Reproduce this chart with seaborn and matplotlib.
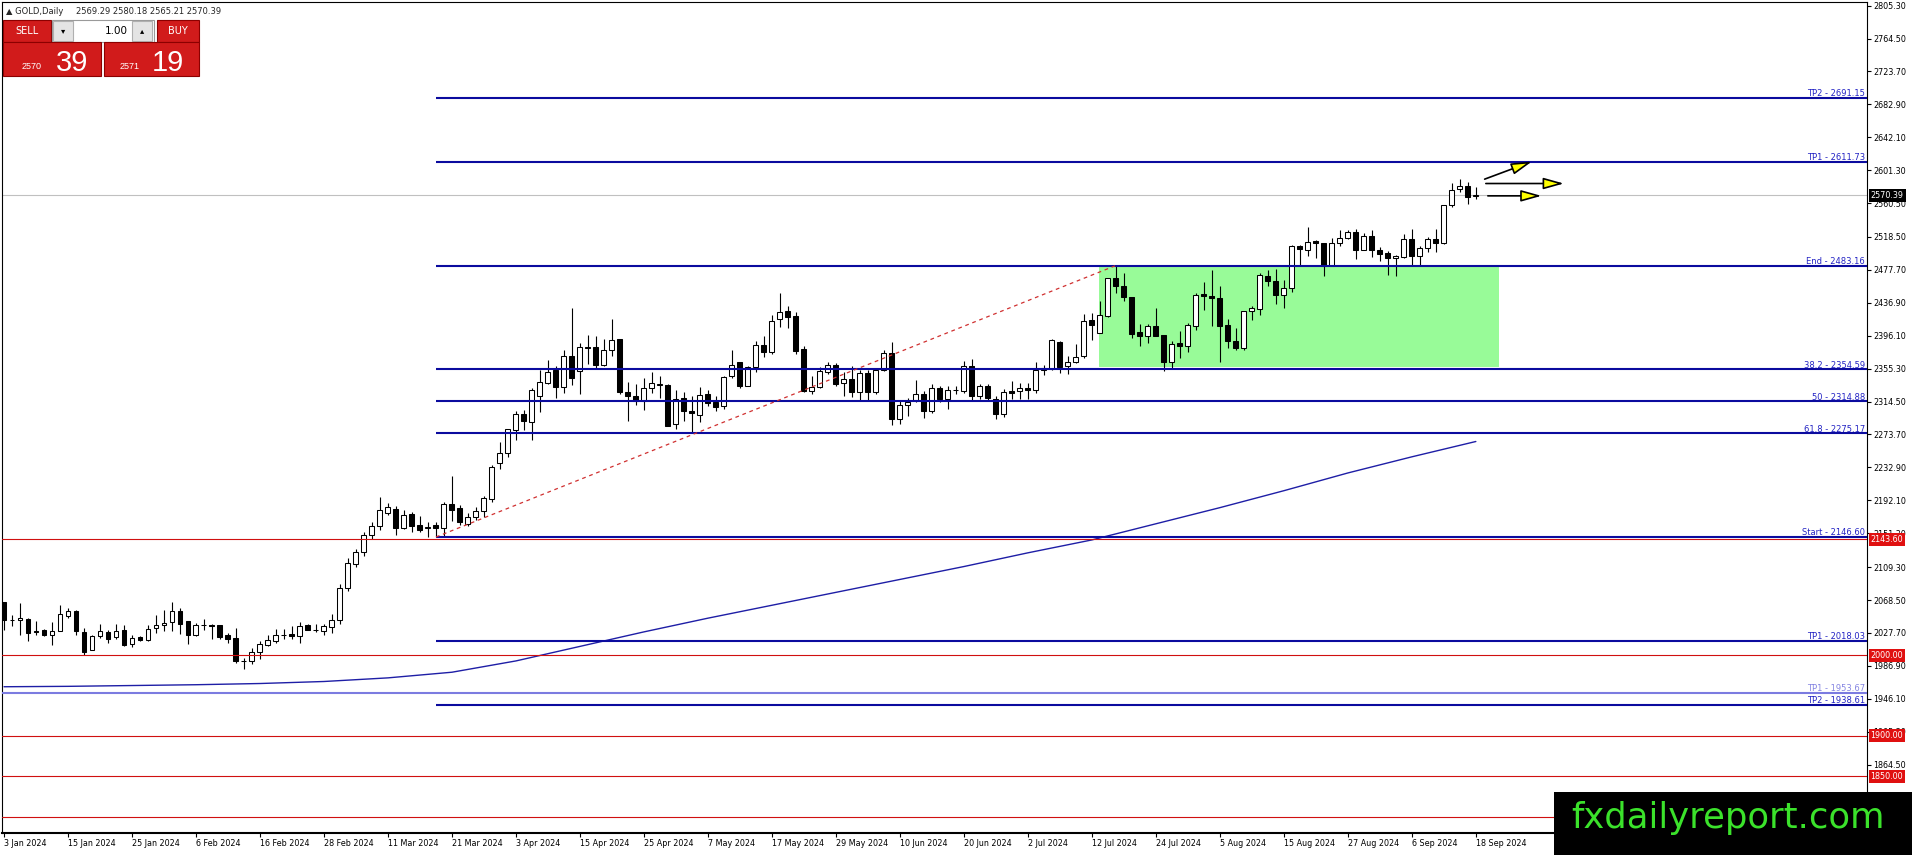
import numpy as np
import pandas as pd
import matplotlib
matplotlib.use("Agg")
import matplotlib.pyplot as plt
from matplotlib.patches import Rectangle
import seaborn as sns

# ---- daily candles, one entry per bar (3 Jan 2024 .. 18 Sep 2024) ----
opens = [
    2065.9, 2043.2, 2044.0, 2045.3, 2029.6, 2030.9, 2024.7, 2029.6, 2048.2, 2055.2,
    2028.8, 2006.1, 2023.9, 2028.8, 2022.2, 2030.9, 2014.0, 2022.2, 2018.5, 2033.7,
    2037.4, 2041.2, 2055.2, 2042.0, 2024.7, 2037.0, 2037.0, 2037.0, 2024.7, 2021.4,
    1992.5, 1992.5, 2004.1, 2012.3, 2017.3, 2025.1, 2026.7, 2023.9, 2037.9, 2030.9,
    2029.6, 2034.6, 2044.0, 2083.6, 2113.3, 2127.7, 2149.1, 2159.8, 2176.3, 2181.3,
    2157.8, 2175.1, 2161.5, 2157.4, 2161.5, 2157.4, 2187.5, 2182.1, 2163.0, 2171.5,
    2178.5, 2194.0, 2238.6, 2250.9, 2279.0, 2299.6, 2288.9, 2321.0, 2337.5, 2354.0,
    2332.5, 2370.9, 2352.3, 2382.0, 2382.0, 2359.7, 2378.7, 2392.3, 2326.4, 2321.4,
    2314.8, 2331.3, 2335.4, 2335.4, 2286.4, 2319.4, 2303.3, 2297.5, 2324.3, 2314.0,
    2308.6, 2345.7, 2363.9, 2334.2, 2357.3, 2384.5, 2375.4, 2416.6, 2426.9, 2420.7,
    2379.9, 2327.6, 2332.5, 2351.5, 2359.7, 2337.5, 2342.8, 2325.9, 2349.8, 2325.9,
    2354.0, 2374.6, 2293.0, 2310.3, 2316.1, 2324.3, 2302.8, 2331.6, 2317.2, 2328.7,
    2327.5, 2358.4, 2321.3, 2333.7, 2318.0, 2298.7, 2327.9, 2327.1, 2331.6, 2328.8,
    2354.0, 2355.1, 2388.1, 2358.4, 2363.4, 2370.8, 2415.3, 2399.6, 2421.0, 2468.0,
    2457.3, 2444.1, 2401.3, 2395.5, 2408.7, 2397.6, 2363.4, 2387.3, 2383.1, 2408.7,
    2448.3, 2445.8, 2442.5, 2409.5, 2389.3, 2381.1, 2426.4, 2429.3, 2470.5, 2463.5,
    2446.6, 2455.3, 2506.8, 2501.8, 2513.4, 2510.9, 2482.9, 2510.9, 2516.7, 2524.1,
    2502.7, 2520.0, 2502.7, 2498.5, 2491.9, 2493.6, 2515.8, 2495.2, 2504.7, 2515.8,
    2510.9, 2558.3, 2577.7, 2582.2, 2569.29,
]
highs = [
    2065.9, 2050.2, 2065.1, 2046.0, 2042.0, 2032.9, 2041.2, 2062.6, 2058.9, 2056.0,
    2033.7, 2024.7, 2039.1, 2031.3, 2039.1, 2037.9, 2025.5, 2023.9, 2037.9, 2049.4,
    2056.0, 2065.9, 2058.5, 2042.0, 2039.5, 2045.3, 2039.1, 2037.9, 2027.6, 2033.7,
    1996.7, 2009.0, 2017.3, 2024.7, 2032.1, 2032.1, 2036.2, 2041.2, 2039.1, 2039.1,
    2039.1, 2051.0, 2088.5, 2120.3, 2131.8, 2153.3, 2165.6, 2195.7, 2188.7, 2184.6,
    2180.4, 2177.2, 2172.2, 2164.8, 2164.8, 2190.0, 2222.0, 2186.2, 2176.0, 2184.0,
    2197.0, 2236.0, 2264.1, 2280.6, 2302.5, 2304.5, 2331.3, 2354.0, 2365.5, 2358.1,
    2377.9, 2430.6, 2386.9, 2397.2, 2395.2, 2392.3, 2417.0, 2392.3, 2338.3, 2336.7,
    2344.1, 2351.5, 2346.5, 2335.8, 2328.4, 2325.9, 2321.0, 2332.1, 2329.2, 2321.0,
    2346.5, 2377.9, 2363.9, 2358.9, 2389.8, 2396.0, 2422.4, 2449.6, 2433.1, 2425.7,
    2382.8, 2346.5, 2357.3, 2363.9, 2362.2, 2350.7, 2358.9, 2354.0, 2354.0, 2356.0,
    2377.9, 2387.8, 2314.8, 2319.4, 2341.6, 2327.2, 2335.8, 2333.7, 2333.7, 2333.7,
    2364.6, 2366.7, 2335.8, 2335.8, 2321.3, 2329.6, 2339.9, 2337.0, 2337.0, 2363.4,
    2360.0, 2392.2, 2389.3, 2370.8, 2386.4, 2422.7, 2424.4, 2438.8, 2468.0, 2483.16,
    2473.8, 2444.1, 2411.2, 2411.2, 2430.5, 2397.6, 2389.7, 2401.7, 2412.0, 2449.1,
    2462.3, 2477.1, 2458.1, 2416.9, 2405.8, 2426.4, 2432.6, 2473.8, 2477.1, 2478.8,
    2465.6, 2508.8, 2508.8, 2530.7, 2514.2, 2510.9, 2517.1, 2526.6, 2527.4, 2528.2,
    2523.3, 2526.6, 2505.9, 2500.6, 2496.5, 2522.4, 2528.2, 2506.8, 2518.3, 2528.2,
    2558.3, 2586.0, 2590.2, 2586.9, 2580.18,
]
lows = [
    2030.9, 2036.2, 2024.7, 2017.3, 2024.7, 2023.9, 2013.1, 2029.6, 2046.5, 2025.5,
    2000.8, 2006.1, 2021.4, 2015.6, 2019.7, 2011.1, 2010.3, 2017.3, 2017.3, 2028.0,
    2030.4, 2029.6, 2026.7, 2014.4, 2023.9, 2030.9, 2019.7, 2019.7, 2015.6, 1990.9,
    1983.5, 1989.6, 1995.0, 2011.5, 2015.6, 2019.7, 2020.6, 2015.6, 2030.9, 2028.8,
    2024.7, 2028.0, 2039.1, 2079.1, 2109.2, 2123.6, 2144.2, 2155.7, 2173.9, 2149.1,
    2156.5, 2152.4, 2153.3, 2146.2, 2146.6, 2148.3, 2166.9, 2161.5, 2160.0, 2168.0,
    2172.0, 2190.0, 2231.2, 2246.0, 2266.6, 2279.0, 2266.6, 2301.2, 2336.7, 2318.5,
    2325.1, 2335.0, 2323.5, 2361.4, 2354.8, 2358.9, 2371.3, 2324.3, 2290.1, 2310.3,
    2303.7, 2325.1, 2318.5, 2283.9, 2280.6, 2290.5, 2275.7, 2289.7, 2308.6, 2302.5,
    2305.3, 2343.2, 2331.3, 2333.4, 2350.7, 2369.2, 2372.9, 2406.7, 2405.1, 2372.9,
    2326.0, 2323.5, 2330.9, 2349.0, 2333.4, 2321.0, 2319.8, 2314.8, 2314.8, 2324.3,
    2351.9, 2285.2, 2286.8, 2296.3, 2313.6, 2293.8, 2300.7, 2313.9, 2304.9, 2323.4,
    2325.5, 2315.1, 2317.2, 2315.1, 2293.3, 2295.8, 2318.0, 2317.2, 2317.2, 2325.5,
    2348.0, 2353.5, 2349.4, 2348.1, 2361.7, 2368.7, 2390.6, 2399.6, 2419.4, 2449.1,
    2438.8, 2393.5, 2383.1, 2387.3, 2396.3, 2352.2, 2355.1, 2368.7, 2375.7, 2403.0,
    2428.5, 2408.7, 2363.4, 2381.1, 2378.2, 2379.0, 2415.3, 2422.3, 2457.3, 2435.9,
    2431.0, 2449.9, 2482.9, 2495.2, 2491.9, 2469.7, 2482.9, 2507.6, 2515.8, 2491.1,
    2501.8, 2493.6, 2488.2, 2471.7, 2470.5, 2492.4, 2482.9, 2482.9, 2499.4, 2499.4,
    2510.1, 2555.4, 2574.5, 2560.0, 2565.21,
]
closes = [
    2043.2, 2043.6, 2046.5, 2027.6, 2028.8, 2024.7, 2030.0, 2051.0, 2054.8, 2029.6,
    2004.1, 2023.9, 2029.6, 2020.6, 2029.6, 2013.1, 2021.4, 2018.9, 2033.0, 2037.9,
    2040.3, 2055.2, 2039.1, 2024.7, 2037.9, 2037.4, 2036.2, 2022.6, 2019.7, 1992.5,
    1992.9, 2004.1, 2014.0, 2018.5, 2024.7, 2025.5, 2023.9, 2036.2, 2030.9, 2031.3,
    2036.2, 2044.0, 2083.6, 2114.1, 2127.7, 2149.1, 2159.8, 2179.6, 2183.3, 2157.8,
    2173.9, 2160.7, 2155.7, 2159.4, 2157.4, 2187.5, 2180.4, 2164.8, 2171.0, 2178.5,
    2194.5, 2233.5, 2250.9, 2280.6, 2299.6, 2290.1, 2329.2, 2338.7, 2351.1, 2332.5,
    2370.9, 2343.2, 2382.0, 2380.3, 2359.3, 2378.7, 2390.2, 2325.9, 2321.0, 2314.8,
    2331.7, 2337.5, 2335.8, 2283.9, 2317.7, 2302.5, 2300.0, 2322.7, 2312.8, 2307.4,
    2344.9, 2359.7, 2334.2, 2357.3, 2384.5, 2375.4, 2414.5, 2425.3, 2419.1, 2377.0,
    2327.2, 2332.5, 2352.7, 2359.7, 2335.8, 2342.4, 2325.9, 2349.8, 2325.9, 2354.0,
    2374.6, 2293.0, 2310.7, 2313.6, 2323.9, 2302.5, 2331.6, 2317.2, 2328.8, 2328.8,
    2358.4, 2321.3, 2333.7, 2319.3, 2298.7, 2326.3, 2325.5, 2331.2, 2328.8, 2353.5,
    2356.0, 2390.6, 2357.6, 2363.4, 2369.9, 2414.5, 2409.5, 2421.9, 2468.0, 2457.3,
    2444.1, 2398.8, 2395.5, 2408.7, 2396.3, 2363.4, 2386.4, 2383.1, 2409.9, 2447.0,
    2445.0, 2442.5, 2408.7, 2389.3, 2381.1, 2426.4, 2430.5, 2471.3, 2463.5, 2446.6,
    2455.3, 2506.8, 2503.5, 2512.6, 2510.9, 2482.9, 2510.9, 2516.7, 2524.1, 2502.7,
    2520.0, 2501.8, 2497.7, 2491.9, 2494.4, 2515.8, 2495.2, 2504.7, 2515.8, 2510.9,
    2558.3, 2576.8, 2582.2, 2568.2, 2570.39,
]

# x axis labels, one every 8 bars
date_labels = ["3 Jan 2024", "15 Jan 2024", "25 Jan 2024", "6 Feb 2024", "16 Feb 2024",
               "28 Feb 2024", "11 Mar 2024", "21 Mar 2024", "3 Apr 2024", "15 Apr 2024",
               "25 Apr 2024", "7 May 2024", "17 May 2024", "29 May 2024", "10 Jun 2024",
               "20 Jun 2024", "2 Jul 2024", "12 Jul 2024", "24 Jul 2024", "5 Aug 2024",
               "15 Aug 2024", "27 Aug 2024", "6 Sep 2024", "18 Sep 2024"]
date_ticks = list(range(0, 185, 8))

# long moving average, read at the label bars
ma_bars = list(range(0, 185, 8))
ma_values = [1961, 1961.5, 1962.5, 1963.5, 1965, 1967.5, 1972, 1979, 1993, 2011, 2029, 2046,
             2062, 2078, 2094, 2110, 2127, 2143, 2163, 2183, 2204, 2226, 2246, 2265]

# right price scale
price_ticks = [2805.30, 2764.50, 2723.70, 2682.90, 2642.10, 2601.30, 2560.50, 2518.50,
               2477.70, 2436.90, 2396.10, 2355.30, 2314.50, 2273.70, 2232.90, 2192.10,
               2151.30, 2109.30, 2068.50, 2027.70, 1986.90, 1946.10, 1905.30, 1864.50]

# fibonacci / target levels drawn from the swing low bar
fib_names = ["TP2", "TP1", "End", "38.2", "50", "61.8", "Start", "TP1", "TP2"]
fib_levels = [2691.15, 2611.73, 2483.16, 2354.59, 2314.88, 2275.17, 2146.60, 2018.03, 1938.61]
fib_start_bar = 54
fib_end_bar = 139
tp_light_level = 1953.67

red_levels = [2143.60, 2000.00, 1900.00, 1850.00, 1800.00]
red_tagged = [2143.60, 2000.00, 1900.00, 1850.00]
bid_price = 2570.39

zone_bars = (136.9, 186.9)
zone_prices = (2357.7, 2483.16)

arrow_segments = [((185.1, 2590.2), (191.0, 2612.0)),
                  ((185.25, 2584.8), (195.0, 2584.8)),
                  ((185.5, 2569.5), (192.2, 2569.5))]

# ---- style ----
sns.set_theme(style="white")
plt.rcParams["font.family"] = ["DejaVu Sans"]

W, H = 1912, 855
fig = plt.figure(figsize=(W / 100, H / 100), dpi=100)
fig.patch.set_facecolor("white")
ax = fig.add_axes([2 / W, (H - 833) / H, 1865 / W, 831 / H])
ax.set_facecolor("white")
XMAX = 232.9
ax.set_xlim(-0.25, XMAX)
ax.set_ylim(1779.7, 2809.8)

df = pd.DataFrame({"open": opens, "high": highs, "low": lows, "close": closes})
df["bar"] = np.arange(len(df))
up = df["close"] >= df["open"]
body_low = df[["open", "close"]].min(axis=1)
body_h = (df["close"] - df["open"]).abs().clip(lower=0.5)

# green zone
ax.add_patch(Rectangle((zone_bars[0], zone_prices[0]), zone_bars[1] - zone_bars[0],
                       zone_prices[1] - zone_prices[0], facecolor="#98fb98",
                       edgecolor="none", zorder=1))
ax.axhline(bid_price, color="#c0c0c0", lw=0.8, zorder=1.5)

# candles
ax.vlines(df["bar"], df["low"], df["high"], color="black", lw=0.8, zorder=3)
ax.bar(df["bar"], body_h, bottom=body_low, width=0.62,
       color=np.where(up, "white", "black"), edgecolor="black", linewidth=0.75, zorder=4)

# moving average
sns.lineplot(x=ma_bars, y=ma_values, ax=ax, color="#1e1ea6", linewidth=1.0, zorder=5)

# horizontal levels
for lvl in red_levels:
    ax.axhline(lvl, color="#d01010", lw=0.8, zorder=6)
ax.axhline(tp_light_level, color="#7b7be0", lw=1.5, zorder=6)
ax.hlines(fib_levels, fib_start_bar, XMAX, colors="#0b0b9e", linewidth=1.5, zorder=6)
ax.plot([fib_start_bar, fib_end_bar], [fib_levels[6], fib_levels[2]], color="#d03030",
        lw=0.9, linestyle=(0, (3, 3)), zorder=6)

for name, lvl in zip(fib_names, fib_levels):
    ax.annotate(f"{name} - {lvl:.2f}", xy=(1, lvl), xycoords=("axes fraction", "data"),
                xytext=(-1.5, 1.2), textcoords="offset points", ha="right", va="baseline",
                fontsize=6, color="#2424c4", zorder=8, annotation_clip=False)
ax.annotate(f"TP1 - {tp_light_level:.2f}", xy=(1, tp_light_level),
            xycoords=("axes fraction", "data"), xytext=(-1.5, 1.2),
            textcoords="offset points", ha="right", va="baseline", fontsize=6,
            color="#8585e2", zorder=8, annotation_clip=False)

# arrows
for start, end in arrow_segments:
    ax.annotate("", xy=end, xytext=start,
                arrowprops=dict(arrowstyle="-|>,head_length=1.25,head_width=0.35",
                                fc="#ffff00", ec="black", lw=1.2, shrinkA=0, shrinkB=0,
                                mutation_scale=10), zorder=7)

# price tags on the scale
for lvl in red_tagged:
    ax.annotate(f"{lvl:.2f}", xy=(1, lvl), xycoords=("axes fraction", "data"),
                xytext=(2.6, 0), textcoords="offset points", ha="left", va="center",
                fontsize=5.8, color="white", zorder=9, annotation_clip=False,
                bbox=dict(boxstyle="square,pad=0.25", fc="#e01010", ec="none"))
ax.annotate(f"{bid_price:.2f}", xy=(1, bid_price), xycoords=("axes fraction", "data"),
            xytext=(2.6, 0), textcoords="offset points", ha="left", va="center",
            fontsize=5.8, color="white", zorder=9, annotation_clip=False,
            bbox=dict(boxstyle="square,pad=0.25", fc="black", ec="none"))

# axes
ax.yaxis.tick_right()
ax.set_yticks(price_ticks)
ax.set_yticklabels([f"{v:.2f}" for v in price_ticks])
ax.set_xticks(date_ticks)
ax.set_xticklabels(date_labels, ha="left")
ax.tick_params(axis="y", length=3, width=0.8, pad=1.5, labelsize=5.8, colors="black",
               direction="out", right=True, left=False)
ax.tick_params(axis="x", length=3, width=0.8, pad=1.5, labelsize=5.8, colors="black",
               direction="out", bottom=True)
ax.set_xlabel("")
ax.set_ylabel("")
for side in ["left", "top", "right", "bottom"]:
    ax.spines[side].set_color("black")
    ax.spines[side].set_linewidth(0.8)
ax.spines["bottom"].set_linewidth(1.5)


# ---- header and one-click trading panel (figure pixels, origin top-left) ----
def fx(x):
    return x / W


def fy(y):
    return 1 - y / H


def box(x0, y0, x1, y1, fc, ec="none", lw=0.8):
    fig.add_artist(Rectangle((fx(x0), fy(y1)), (x1 - x0) / W, (y1 - y0) / H,
                             transform=fig.transFigure, facecolor=fc, edgecolor=ec,
                             linewidth=lw, zorder=10))


fig.text(fx(6), fy(11), "▲ GOLD,Daily", fontsize=6, va="center", ha="left", zorder=11)
fig.text(fx(76), fy(11), "2569.29 2580.18 2565.21 2570.39", fontsize=6, va="center",
         ha="left", zorder=11)

red = "#d11b1b"
edge = "#8c0000"
box(3, 20, 51, 42, red, edge)
box(157, 20, 199, 42, red, edge)
box(52, 20, 154, 42, "white", "#9a9a9a")
box(53, 21, 73, 41, "#e4e4e4", "#b0b0b0")
box(132, 21, 152, 41, "#e4e4e4", "#b0b0b0")
box(3, 42, 101, 76, red, edge)
box(104, 42, 199, 76, red, edge)
fig.text(fx(27), fy(31), "SELL", fontsize=7, color="white", ha="center", va="center", zorder=11)
fig.text(fx(178), fy(31), "BUY", fontsize=7, color="white", ha="center", va="center", zorder=11)
fig.text(fx(63), fy(31), "▾", fontsize=6, color="black", ha="center", va="center", zorder=11)
fig.text(fx(142), fy(31), "▴", fontsize=6, color="black", ha="center", va="center", zorder=11)
fig.text(fx(128), fy(31), "1.00", fontsize=7.5, color="black", ha="right", va="center", zorder=11)
fig.text(fx(22), fy(69), "2570", fontsize=6.5, color="white", ha="left", va="baseline",
         family=["Liberation Sans"], zorder=11)
fig.text(fx(56), fy(71), "39", fontsize=21, color="white", ha="left", va="baseline",
         family=["Liberation Sans"], zorder=11)
fig.text(fx(120), fy(69), "2571", fontsize=6.5, color="white", ha="left", va="baseline",
         family=["Liberation Sans"], zorder=11)
fig.text(fx(152), fy(71), "19", fontsize=21, color="white", ha="left", va="baseline",
         family=["Liberation Sans"], zorder=11)

# watermark
box(1554, 792, 1912, 855, "black")
fig.text(fx(1571), fy(828), "fxdailyreport.com", fontsize=25.5, color="#3be22b",
         ha="left", va="baseline", zorder=11)

fig.savefig("out.png", dpi=100)
